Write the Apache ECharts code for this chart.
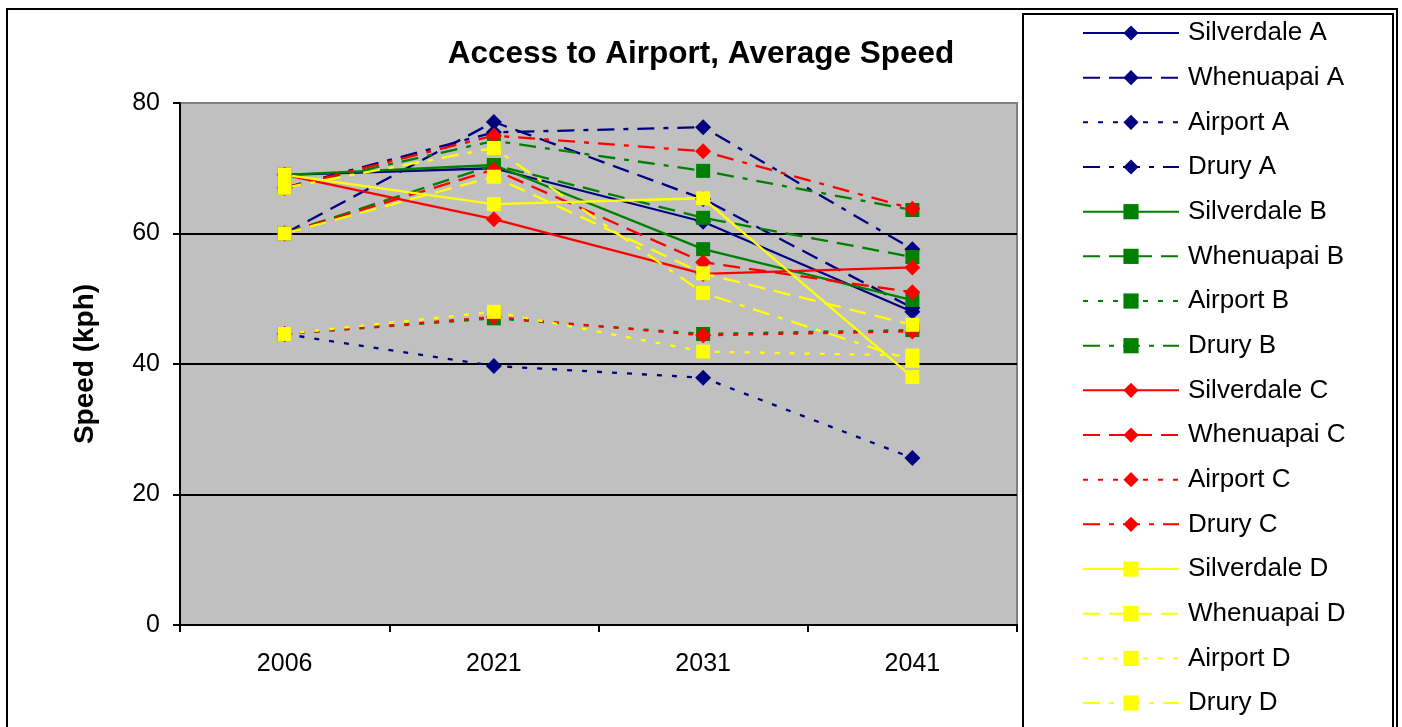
<!DOCTYPE html>
<html>
<head>
<meta charset="utf-8">
<style>
  html, body { margin: 0; padding: 0; background: #ffffff; }
  #chart { width: 1402px; height: 727px; }
</style>
<script src="https://cdn.jsdelivr.net/npm/echarts@6/dist/echarts.min.js"></script>
</head>
<body>
<div id="chart"></div>
<script>
// ---- data ----
const categories = ['2006', '2021', '2031', '2041'];
const yTicks = [0, 20, 40, 60, 80];

const silverdaleA = [69.0, 70.0, 61.8, 48.0];
const whenuapaiA  = [60.0, 77.1, 65.3, 48.6];
const airportA    = [44.6, 39.7, 37.9, 25.6];
const druryA      = [67.0, 75.5, 76.3, 57.6];

const silverdaleB = [69.0, 70.5, 57.6, 49.8];
const whenuapaiB  = [60.0, 70.5, 62.4, 56.4];
const airportB    = [44.6, 47.0, 44.6, 45.2];
const druryB      = [67.0, 74.2, 69.6, 63.6];

const silverdaleC = [69.0, 62.2, 53.8, 54.8];
const whenuapaiC  = [60.0, 69.8, 55.6, 51.0];
const airportC    = [44.6, 47.2, 44.4, 45.0];
const druryC      = [67.0, 75.0, 72.6, 63.8];

const silverdaleD = [69.0, 64.5, 65.4, 38.0];
const whenuapaiD  = [60.0, 68.7, 53.9, 46.0];
const airportD    = [44.6, 48.0, 41.9, 41.3];
const druryD      = [67.0, 73.1, 50.9, 40.5];

const seriesNames = [
  'Silverdale A', 'Whenuapai A', 'Airport A', 'Drury A',
  'Silverdale B', 'Whenuapai B', 'Airport B', 'Drury B',
  'Silverdale C', 'Whenuapai C', 'Airport C', 'Drury C',
  'Silverdale D', 'Whenuapai D', 'Airport D', 'Drury D'
];
const seriesData = [
  silverdaleA, whenuapaiA, airportA, druryA,
  silverdaleB, whenuapaiB, airportB, druryB,
  silverdaleC, whenuapaiC, airportC, druryC,
  silverdaleD, whenuapaiD, airportD, druryD
];

// ---- styles ----
const scenarioColors = ['#000080', '#008000', '#FF0000', '#FFFF00'];
const scenarioSymbols = ['diamond', 'rect', 'diamond', 'rect'];
const scenarioSymbolSize = [16, 14, 16, 14];
const dashTypes = ['solid', [17, 9], [5, 10], [17, 9, 5, 9]];
const FONT = "'Liberation Sans', Arial, sans-serif";

const series = seriesNames.map((name, i) => {
  const sc = Math.floor(i / 4);
  const loc = i % 4;
  return {
    name: name,
    type: 'line',
    data: seriesData[i],
    symbol: scenarioSymbols[sc],
    symbolSize: scenarioSymbolSize[sc],
    showAllSymbol: true,
    lineStyle: { color: scenarioColors[sc], width: 2.3, type: dashTypes[loc] },
    itemStyle: { color: scenarioColors[sc], borderWidth: 0 },
    emphasis: { disabled: true },
    animation: false
  };
});

const chart = echarts.init(document.getElementById('chart'), null, { renderer: 'canvas' });
chart.setOption({
  animation: false,
  backgroundColor: '#ffffff',
  title: {
    text: 'Access to Airport, Average Speed',
    left: 'center',
    top: 33,
    textStyle: { fontFamily: FONT, fontSize: 31.5, fontWeight: 'bold', color: '#000' }
  },
  graphic: [
    { type: 'rect', z: -10, shape: { x: 7, y: 9, width: 1390, height: 740 },
      style: { fill: 'none', stroke: '#000', lineWidth: 2 } },
    { type: 'rect', z: -10, shape: { x: 1023, y: 14, width: 370, height: 740 },
      style: { fill: '#fff', stroke: '#000', lineWidth: 2 } }
  ],
  legend: {
    orient: 'vertical',
    left: 1082,
    top: 18,
    padding: 0,
    itemWidth: 96,
    itemHeight: 19,
    itemGap: 14.67,
    lineStyle: { width: 2 },
    textStyle: { fontFamily: FONT, fontSize: 26, color: '#000', lineHeight: 30, padding: [0, 0, 0, 4] },
    data: seriesNames
  },
  grid: {
    left: 180, top: 103, right: 385, bottom: 102,
    show: true, backgroundColor: '#C0C0C0', borderColor: '#808080', borderWidth: 2,
    containLabel: false
  },
  xAxis: {
    type: 'category',
    data: categories,
    boundaryGap: true,
    axisLine: { show: true, lineStyle: { color: '#000', width: 2 } },
    axisTick: { show: true, length: 7, inside: false, lineStyle: { color: '#000', width: 2 } },
    axisLabel: { fontFamily: FONT, fontSize: 25, color: '#000', margin: 27 },
    splitLine: { show: false }
  },
  yAxis: {
    type: 'value',
    min: yTicks[0],
    max: yTicks[yTicks.length - 1],
    interval: 20,
    name: 'Speed (kph)',
    nameLocation: 'middle',
    nameRotate: 90,
    nameGap: 81,
    nameTextStyle: { fontFamily: FONT, fontSize: 28, fontWeight: 'bold', color: '#000' },
    axisLine: { show: true, lineStyle: { color: '#000', width: 2 } },
    axisTick: { show: true, length: 7, inside: false, lineStyle: { color: '#000', width: 2 } },
    axisLabel: { fontFamily: FONT, fontSize: 25, color: '#000', margin: 20 },
    splitLine: { show: true, showMaxLine: false, lineStyle: { color: '#000', width: 2 } }
  },
  series: series
});
</script>
</body>
</html>
